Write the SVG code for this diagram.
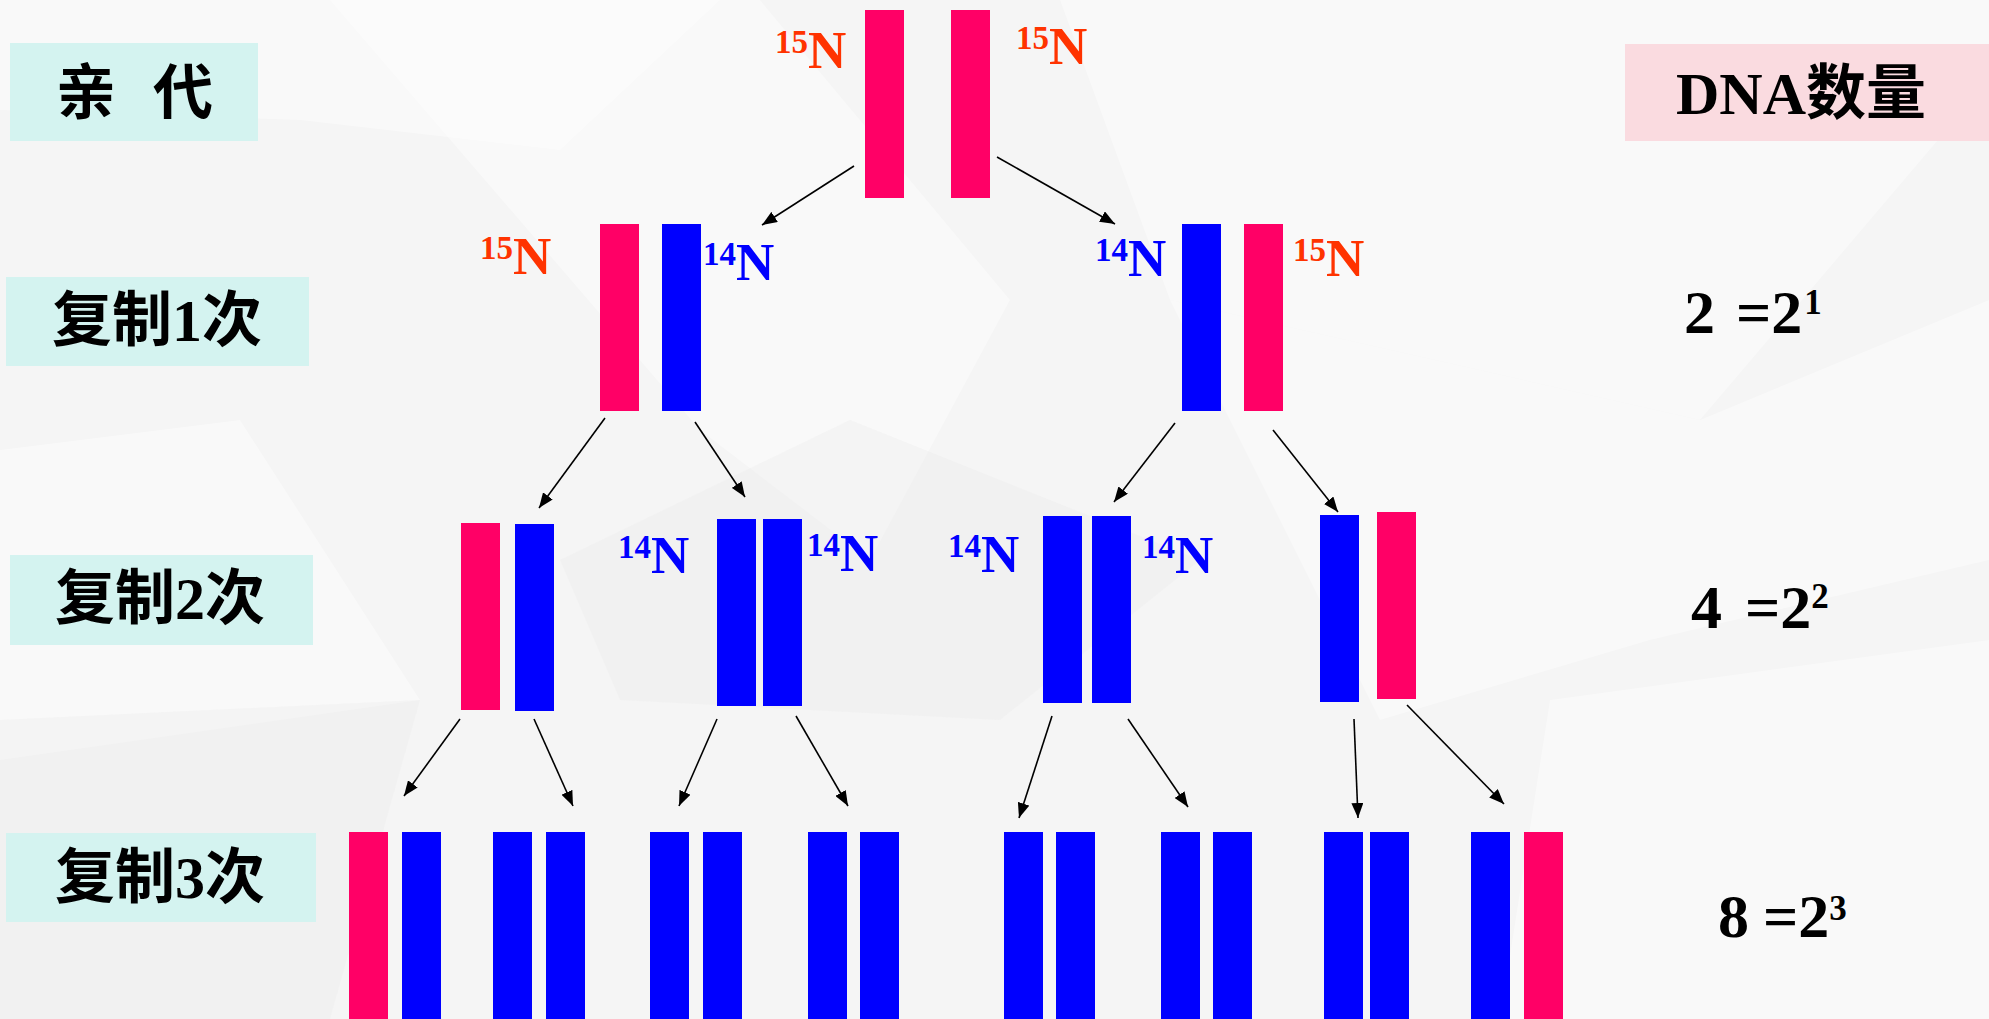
<svg xmlns="http://www.w3.org/2000/svg" width="1989" height="1019" viewBox="0 0 1989 1019">
<defs>
<style>
.bg{fill:#f5f5f5}
.hl{fill:#ffffff;opacity:0.4}
.sh{fill:#ececec;opacity:0.35}
.gen{fill:#d4f3f0}
.cnt{fill:#fadbe0}
.p{fill:#ff0066}
.b{fill:#0000ff}
.cn{font-family:"Liberation Serif","Noto Sans CJK SC",serif;font-weight:bold;font-size:60px;fill:#000}
.lab{font-family:"Liberation Serif",serif;font-weight:bold;font-size:53px}
.sup{font-size:33px}
.r{fill:#ff3300}
.bl{fill:#0000ff}
.num{font-family:"Liberation Serif",serif;font-weight:bold;font-size:62px;fill:#000}
.nsup{font-size:35px}
.arr{stroke:#000;stroke-width:1.6;fill:none;marker-end:url(#ah)}
</style>
<marker id="ah" markerUnits="userSpaceOnUse" markerWidth="16" markerHeight="12" refX="15" refY="6" orient="auto">
<path d="M0,0 L15,6 L0,12 Z" fill="#000"/>
</marker>
</defs>

<g id="background">
<rect class="bg" x="0" y="0" width="1989" height="1019"/>
<polygon class="hl" points="0,0 720,0 560,150 300,120 0,110"/>
<polygon class="hl" points="330,0 760,0 1010,300 870,560 700,430"/>
<polygon class="hl" points="1060,0 1989,0 1989,80 1700,420 1170,300"/>
<polygon class="hl" points="0,450 240,420 420,700 0,760"/>
<polygon class="hl" points="1170,300 1700,420 1989,300 1989,560 1650,640 1380,720"/>
<polygon class="sh" points="560,560 850,420 1200,560 1000,720 620,700"/>
<polygon class="sh" points="0,720 420,700 330,1019 0,1019"/>
<polygon class="hl" points="1550,700 1989,640 1989,1019 1500,1019"/>
</g>

<g id="label-parent"><rect class="gen" x="10" y="43" width="248" height="98"/><text class="cn" x="56" y="114" word-spacing="22">亲 代</text></g>
<g id="label-rep1"><rect class="gen" x="6" y="277" width="303" height="89"/><text class="cn" x="52" y="341">复制1次</text></g>
<g id="label-rep2"><rect class="gen" x="10" y="555" width="303" height="90"/><text class="cn" x="55" y="619">复制2次</text></g>
<g id="label-rep3"><rect class="gen" x="6" y="833" width="310" height="89"/><text class="cn" x="55" y="898">复制3次</text></g>
<g id="label-count"><rect class="cnt" x="1625" y="44" width="364" height="97"/><text class="cn" x="1676" y="114" font-size="64">DNA数量</text></g>

<g id="count-1"><text class="num" x="1684" y="333">2 <tspan x="1736">=2</tspan><tspan class="nsup" dx="2" dy="-19">1</tspan></text></g>
<g id="count-2"><text class="num" x="1691" y="628">4 <tspan x="1745">=2</tspan><tspan class="nsup" dx="0" dy="-20">2</tspan></text></g>
<g id="count-3"><text class="num" x="1718" y="937">8 <tspan x="1763">=2</tspan><tspan class="nsup" dx="0" dy="-17">3</tspan></text></g>

<g id="dna-p">
<rect class="p" x="865" y="10" width="39" height="188"/>
<rect class="p" x="951" y="10" width="39" height="188"/>
<text class="lab r" x="775" y="68"><tspan class="sup" dy="-15">15</tspan><tspan dy="15">N</tspan></text>
<text class="lab r" x="1016" y="64"><tspan class="sup" dy="-15">15</tspan><tspan dy="15">N</tspan></text>
</g>

<g id="dna-1a">
<rect class="p" x="600" y="224" width="39" height="187"/>
<rect class="b" x="662" y="224" width="39" height="187"/>
<text class="lab r" x="480" y="274"><tspan class="sup" dy="-15">15</tspan><tspan dy="15">N</tspan></text>
<text class="lab bl" x="703" y="280"><tspan class="sup" dy="-15">14</tspan><tspan dy="15">N</tspan></text>
</g>
<g id="dna-1b">
<rect class="b" x="1182" y="224" width="39" height="187"/>
<rect class="p" x="1244" y="224" width="39" height="187"/>
<text class="lab bl" x="1095" y="276"><tspan class="sup" dy="-15">14</tspan><tspan dy="15">N</tspan></text>
<text class="lab r" x="1293" y="276"><tspan class="sup" dy="-15">15</tspan><tspan dy="15">N</tspan></text>
</g>

<g id="dna-2a">
<rect class="p" x="461" y="523" width="39" height="187"/>
<rect class="b" x="515" y="524" width="39" height="187"/>
</g>
<g id="dna-2b">
<rect class="b" x="717" y="519" width="39" height="187"/>
<rect class="b" x="763" y="519" width="39" height="187"/>
<text class="lab bl" x="618" y="573"><tspan class="sup" dy="-15">14</tspan><tspan dy="15">N</tspan></text>
<text class="lab bl" x="807" y="571"><tspan class="sup" dy="-15">14</tspan><tspan dy="15">N</tspan></text>
</g>
<g id="dna-2c">
<rect class="b" x="1043" y="516" width="39" height="187"/>
<rect class="b" x="1092" y="516" width="39" height="187"/>
<text class="lab bl" x="948" y="572"><tspan class="sup" dy="-15">14</tspan><tspan dy="15">N</tspan></text>
<text class="lab bl" x="1142" y="573"><tspan class="sup" dy="-15">14</tspan><tspan dy="15">N</tspan></text>
</g>
<g id="dna-2d">
<rect class="b" x="1320" y="515" width="39" height="187"/>
<rect class="p" x="1377" y="512" width="39" height="187"/>
</g>

<g id="dna-3a"><rect class="p" x="349" y="832" width="39" height="187"/><rect class="b" x="402" y="832" width="39" height="187"/></g>
<g id="dna-3b"><rect class="b" x="493" y="832" width="39" height="187"/><rect class="b" x="546" y="832" width="39" height="187"/></g>
<g id="dna-3c"><rect class="b" x="650" y="832" width="39" height="187"/><rect class="b" x="703" y="832" width="39" height="187"/></g>
<g id="dna-3d"><rect class="b" x="808" y="832" width="39" height="187"/><rect class="b" x="860" y="832" width="39" height="187"/></g>
<g id="dna-3e"><rect class="b" x="1004" y="832" width="39" height="187"/><rect class="b" x="1056" y="832" width="39" height="187"/></g>
<g id="dna-3f"><rect class="b" x="1161" y="832" width="39" height="187"/><rect class="b" x="1213" y="832" width="39" height="187"/></g>
<g id="dna-3g"><rect class="b" x="1324" y="832" width="39" height="187"/><rect class="b" x="1370" y="832" width="39" height="187"/></g>
<g id="dna-3h"><rect class="b" x="1471" y="832" width="39" height="187"/><rect class="p" x="1524" y="832" width="39" height="187"/></g>

<g id="connectors">
<line class="arr" x1="854" y1="166" x2="762" y2="225"/>
<line class="arr" x1="997" y1="157" x2="1115" y2="224"/>
<line class="arr" x1="605" y1="418" x2="539" y2="508"/>
<line class="arr" x1="695" y1="422" x2="745" y2="497"/>
<line class="arr" x1="1175" y1="423" x2="1114" y2="502"/>
<line class="arr" x1="1273" y1="430" x2="1338" y2="512"/>
<line class="arr" x1="460" y1="719" x2="404" y2="796"/>
<line class="arr" x1="534" y1="719" x2="573" y2="806"/>
<line class="arr" x1="717" y1="719" x2="679" y2="806"/>
<line class="arr" x1="796" y1="716" x2="848" y2="806"/>
<line class="arr" x1="1052" y1="716" x2="1019" y2="818"/>
<line class="arr" x1="1128" y1="719" x2="1188" y2="807"/>
<line class="arr" x1="1354" y1="719" x2="1358" y2="818"/>
<line class="arr" x1="1407" y1="705" x2="1504" y2="804"/>
</g>
</svg>
